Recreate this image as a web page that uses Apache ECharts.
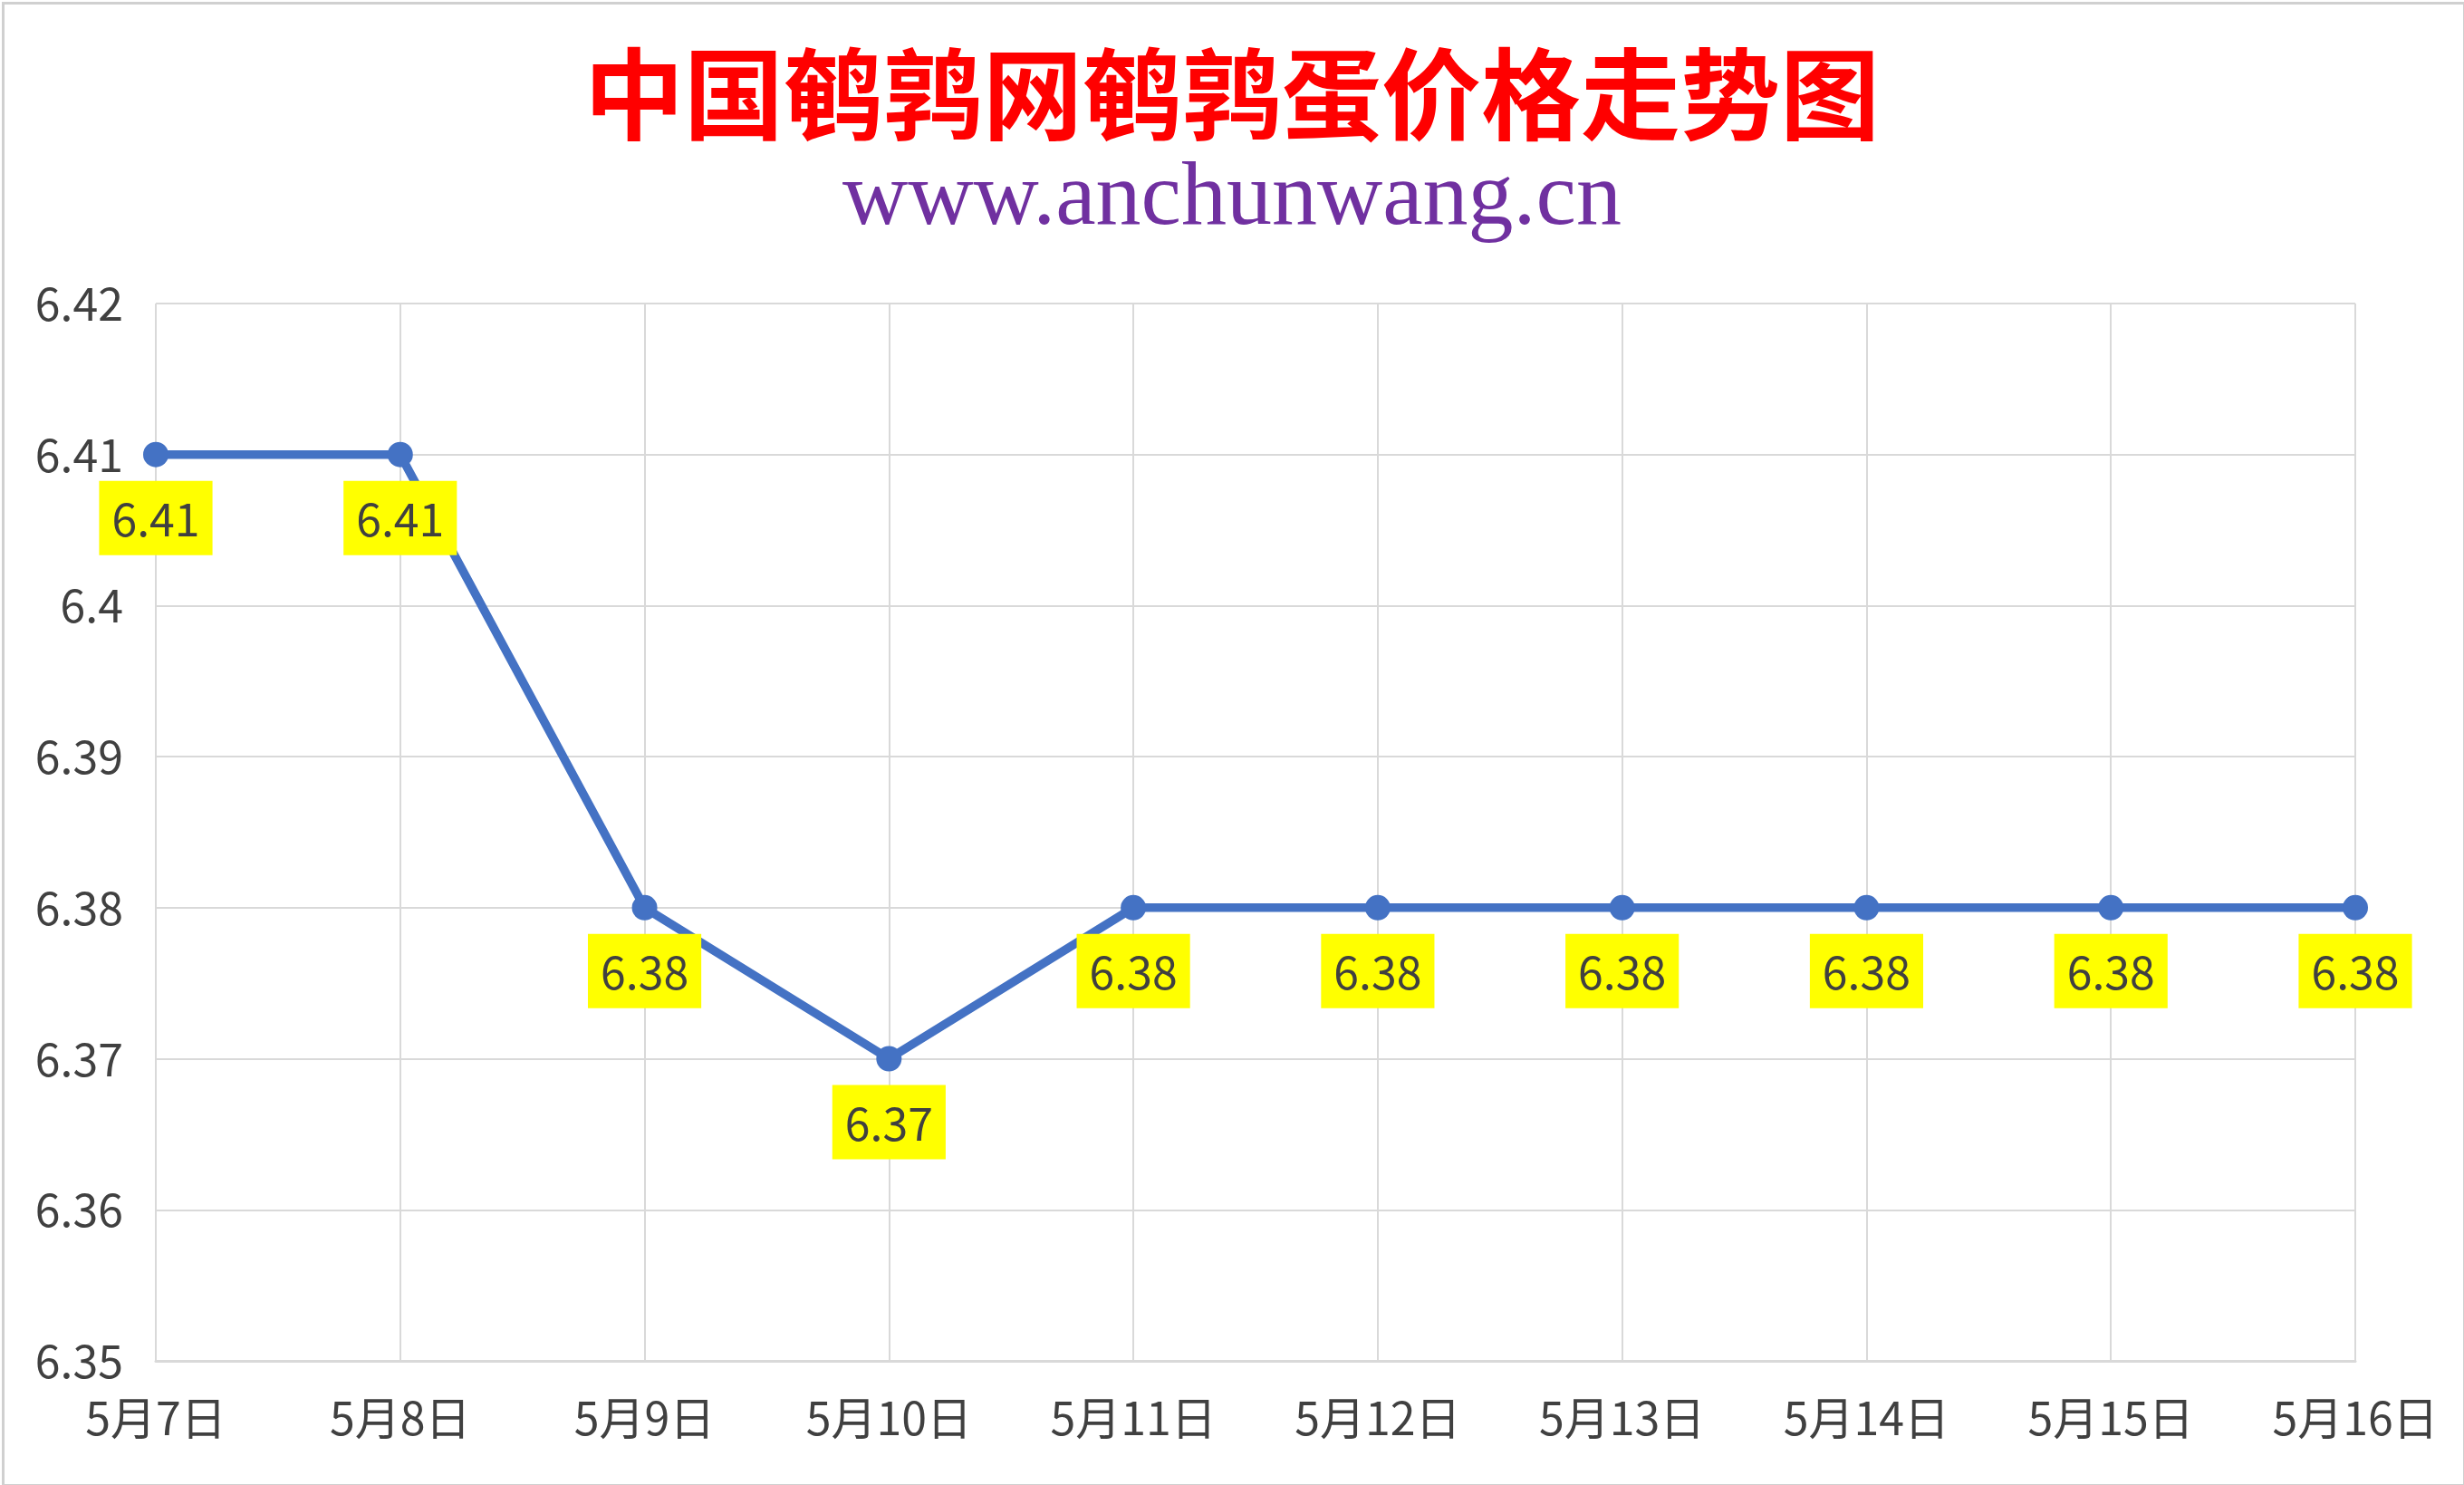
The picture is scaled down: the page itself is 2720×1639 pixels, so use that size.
<!DOCTYPE html>
<html>
<head>
<meta charset="utf-8">
<script src="https://cdn.jsdelivr.net/npm/echarts@6/dist/echarts.min.js"></script>
<style>
html,body{margin:0;padding:0;background:#fff;}
#c{width:2720px;height:1639px;}
</style>
</head>
<body>
<div id="c"></div>
<script>
const titleText = '中国鹌鹑网鹌鹑蛋价格走势图';
const subtitleText = 'www.anchunwang.cn';
const categories = ['5月7日','5月8日','5月9日','5月10日','5月11日','5月12日','5月13日','5月14日','5月15日','5月16日'];
const prices = [6.41, 6.41, 6.38, 6.37, 6.38, 6.38, 6.38, 6.38, 6.38, 6.38];
const yMin = 6.35, yMax = 6.42, yStep = 0.01;

const chart = echarts.init(document.getElementById('c'), null, {renderer:'canvas'});
const labelFont = '"Noto Sans CJK SC", "Noto Sans", sans-serif';
chart.setOption({
  backgroundColor:'#ffffff',
  animation:false,
  title:[
    {text:titleText, left:'center', top:44,
     textStyle:{color:'#FF0000', fontSize:110, fontWeight:'bold', fontFamily:'"Noto Sans CJK SC", serif'}},
    {text:subtitleText, left:'center', top:166,
     textStyle:{color:'#7030A0', fontSize:100, fontWeight:'normal', fontFamily:'"Liberation Serif", "DejaVu Serif", serif'}}
  ],
  graphic:[
    {type:'rect', left:1, top:1, silent:true, z:-1,
     shape:{width:2717, height:1636}, style:{fill:'none', stroke:'#D0D0D0', lineWidth:3}}
  ],
  grid:{left:172, right:120, top:335, bottom:137, containLabel:false},
  xAxis:{
    type:'category', data:categories, boundaryGap:false,
    axisLine:{show:true, lineStyle:{color:'#D9D9D9', width:3}},
    axisTick:{show:false},
    splitLine:{show:true, lineStyle:{color:'#D9D9D9', width:2}},
    axisLabel:{color:'#404040', fontSize:50, fontFamily:labelFont, margin:38, interval:0}
  },
  yAxis:{
    type:'value', min:yMin, max:yMax, interval:yStep,
    axisLine:{show:false}, axisTick:{show:false},
    splitLine:{show:true, lineStyle:{color:'#D9D9D9', width:2}},
    axisLabel:{color:'#404040', fontSize:50, fontFamily:labelFont, margin:36,
      formatter:function(v){return String(Math.round(v*100)/100);}}
  },
  series:[{
    type:'line', data:prices,
    lineStyle:{color:'#4472C4', width:9.5},
    itemStyle:{color:'#4472C4'},
    symbol:'circle', symbolSize:28,
    label:{show:true, position:'bottom', distance:15,
      backgroundColor:'#FFFF00', color:'#404040', fontSize:50, fontFamily:labelFont,
      padding:[17,14,15,14], formatter:function(p){return p.value.toFixed(2);}}
  }]
});
</script>
</body>
</html>
